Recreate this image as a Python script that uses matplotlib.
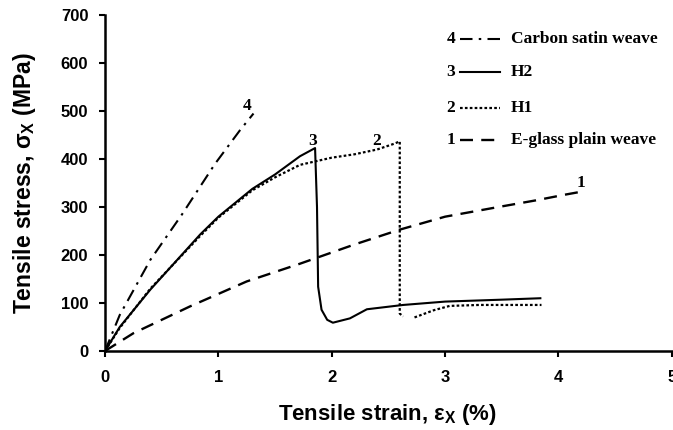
import numpy as np
import matplotlib
matplotlib.use("Agg")
import matplotlib.pyplot as plt

plt.rcParams['font.family'] = ['Liberation Sans', 'DejaVu Sans']
plt.rcParams['mathtext.fontset'] = 'custom'
plt.rcParams['mathtext.rm'] = 'Liberation Sans:bold'
plt.rcParams['mathtext.it'] = 'Liberation Sans:bold'
plt.rcParams['mathtext.bf'] = 'Liberation Sans:bold'

# 1: E-glass plain weave
strain_1 = [0, 0.25, 0.75, 1.25, 1.72, 2.2, 2.6, 3.0, 3.49, 3.8, 4.06, 4.2]
stress_1 = [0, 37, 93, 145, 182, 222, 253, 280, 301, 314, 326, 332]

# 2: H1
strain_2 = [0, 0.13, 0.4, 0.84, 1.0, 1.3, 1.5, 1.72, 1.85, 2.0, 2.2, 2.4,
            2.55, 2.6, 2.6, 2.63, np.nan, 2.73, 2.9, 3.04, 3.3, 3.85]
stress_2 = [0, 48, 130, 240, 278, 335, 362, 388, 395, 403, 410, 420,
            432, 437, 78, 72, np.nan, 70, 85, 94, 96, 96]

# 3: H2
strain_3 = [0, 0.13, 0.4, 0.84, 1.0, 1.3, 1.5, 1.72, 1.853, 1.87, 1.88,
            1.91, 1.96, 2.01, 2.16, 2.31, 2.63, 3.0, 3.5, 3.84]
stress_3 = [0, 50, 128, 243, 280, 338, 368, 406, 423, 300, 134,
            86, 65, 59, 68, 87, 96, 103, 107, 110]

# 4: carbon satin weave
strain_4 = [0, 0.13, 0.4, 0.68, 0.97, 1.19, 1.31]
stress_4 = [0, 75, 190, 285, 390, 460, 495]

styles = {
    '1': dict(ls=(0, (5.5, 3.5)), lw=1.7),
    '2': dict(ls=(0, (1.2, 1.0)), lw=1.6),
    '3': dict(ls='-', lw=1.5),
    '4': dict(ls=(0, (6, 3, 1.2, 3)), lw=1.5),
}
names = {'4': 'Carbon satin weave', '3': 'H2', '2': 'H1',
         '1': 'E-glass plain weave'}

fig = plt.figure(figsize=(6.73, 4.30), dpi=100)
ax = fig.add_axes([0.156, 0.1837, 0.844, 0.781])

ax.plot(strain_1, stress_1, color='black', **styles['1'])
ax.plot(strain_2, stress_2, color='black', **styles['2'])
ax.plot(strain_3, stress_3, color='black', **styles['3'])
ax.plot(strain_4, stress_4, color='black', **styles['4'])

serif = dict(family=['Liberation Serif', 'DejaVu Serif'], weight='bold',
             fontsize=12.5)
# curve numbers next to the curves
ax.text(strain_4[-1] - 0.06, stress_4[-1] + 15, '4', ha='center',
        va='center', **serif)
ax.text(1.83, 437, '3', ha='center', va='center', **serif)
ax.text(2.4, 437, '2', ha='center', va='center', **serif)
ax.text(strain_1[-1], stress_1[-1] + 1, '1', ha='center', va='bottom',
        **serif)

# legend drawn by hand: number, line sample, name
rows = [0.929, 0.830, 0.723, 0.628]
for key, y in zip(['4', '3', '2', '1'], rows):
    ax.text(0.609, y, key, transform=ax.transAxes, ha='center',
            va='center', **serif)
    ax.plot([0.625, 0.695], [y, y], transform=ax.transAxes,
            color='black', **styles[key])
    ax.text(0.715, y, names[key], transform=ax.transAxes, ha='left',
            va='center', **serif)

ax.set_xlim(0, 5.01)
ax.set_ylim(0, 700)
ax.set_xticks([0, 1, 2, 3, 4, 5])
ax.set_yticks(np.arange(0, 701, 100))

for side in ['top', 'right']:
    ax.spines[side].set_visible(False)
for side in ['left', 'bottom']:
    ax.spines[side].set_linewidth(1.8)

ax.tick_params(axis='both', direction='out', length=4, width=1.5,
               labelsize=12)
ax.tick_params(axis='x', pad=10)
ax.tick_params(axis='y', pad=8)
for lab in ax.get_xticklabels() + ax.get_yticklabels():
    lab.set_fontweight('bold')

ax.set_xlabel(r'Tensile strain, $\varepsilon_{\mathrm{X}}$ (%)',
              fontsize=16, fontweight='bold')
ax.set_ylabel(r'Tensile stress, $\sigma_{\mathrm{X}}$ (MPa)',
              fontsize=16.5, fontweight='bold')
ax.xaxis.set_label_coords(0.498, -0.152)
ax.yaxis.set_label_coords(-0.118, 0.5)

fig.savefig('out.png', dpi=100)
